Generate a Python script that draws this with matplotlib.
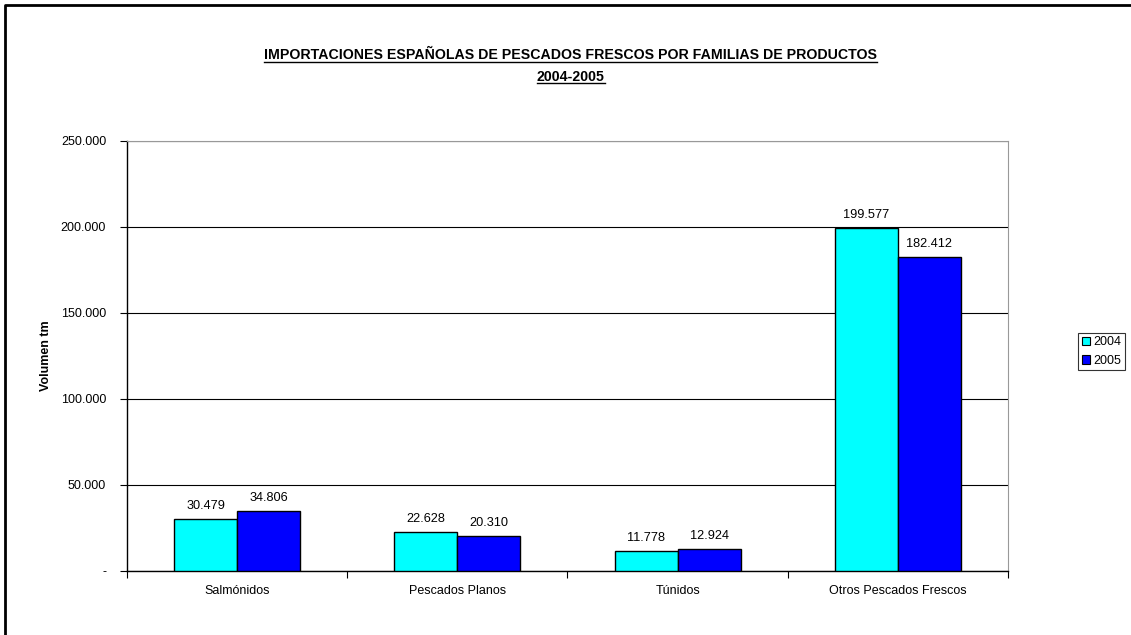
import numpy as np
import matplotlib
matplotlib.use('Agg')
import matplotlib.pyplot as plt
from matplotlib.lines import Line2D
from matplotlib.patches import Patch

# Datos
categorias = ['Salmónidos', 'Pescados Planos', 'Túnidos', 'Otros Pescados Frescos']
vol_2004 = [30479, 22628, 11778, 199577]
vol_2005 = [34806, 20310, 12924, 182412]
series = ['2004', '2005']
colores = ['#00FFFF', '#0000FF']
titulo = ['IMPORTACIONES ESPAÑOLAS DE PESCADOS FRESCOS POR FAMILIAS DE PRODUCTOS', '2004-2005']


def fmt_miles(v):
    if v == 0:
        return '-'
    return f'{v:,.0f}'.replace(',', '.')


plt.rcParams['font.family'] = ['Liberation Sans', 'DejaVu Sans']
plt.rcParams['font.size'] = 9

fig = plt.figure(figsize=(11.31, 6.35), dpi=100)
ax = fig.add_axes([0.1123, 0.1008, 0.7789, 0.6772])

x = np.arange(len(categorias))
w = 0.286
b1 = ax.bar(x - w / 2, vol_2004, w, color=colores[0], edgecolor='black', linewidth=1, zorder=3)
b2 = ax.bar(x + w / 2, vol_2005, w, color=colores[1], edgecolor='black', linewidth=1, zorder=3)

for barras in (b1, b2):
    for r in barras:
        ax.annotate(fmt_miles(r.get_height()), (r.get_x() + r.get_width() / 2, r.get_height()),
                    xytext=(0, 5), textcoords='offset points', ha='center', va='bottom',
                    fontsize=9.2)

ax.set_xlim(-0.5, len(categorias) - 0.5)
ax.set_ylim(0, 250000)
ax.set_yticks(np.arange(0, 250001, 50000))
ax.set_yticklabels([fmt_miles(v) for v in np.arange(0, 250001, 50000)], fontsize=9)
ax.yaxis.grid(True, color='black', linewidth=0.8, zorder=0)

# ticks del eje x entre categorias
ax.set_xticks(np.arange(-0.5, len(categorias)), minor=False)
ax.set_xticklabels([''] * (len(categorias) + 1))
ax.set_xticks(x, minor=True)
ax.set_xticklabels(categorias, minor=True, fontsize=9)
ax.tick_params(axis='x', which='minor', length=0, pad=10)
ax.tick_params(axis='x', which='major', length=5, direction='out')
ax.tick_params(axis='y', length=5, direction='out', pad=10)

ax.spines['left'].set_linewidth(1)
ax.spines['bottom'].set_linewidth(1)
ax.spines['top'].set_color('#999999')
ax.spines['right'].set_color('#999999')
ax.spines['top'].set_linewidth(0.8)
ax.spines['right'].set_linewidth(0.8)

ax.set_ylabel('Volumen tm', fontsize=9, fontweight='bold', labelpad=6)

# titulo (dos lineas, subrayado)
textos = []
for linea, yb in zip(titulo, [0.907, 0.8725]):
    textos.append(fig.text(0.5045, yb, linea, ha='center', va='baseline', fontsize=10.2,
                           fontweight='bold'))

handles = [Patch(facecolor=c, edgecolor='black', linewidth=0.8) for c in colores]
leg = fig.legend(handles, series, loc='center left', bbox_to_anchor=(0.953, 0.4465),
                 frameon=True, fancybox=False, edgecolor='black', fontsize=9,
                 handlelength=0.7, handleheight=0.7, handletextpad=0.2,
                 borderpad=0.3, labelspacing=0.5, borderaxespad=0)
leg.get_frame().set_linewidth(0.8)

# subrayado del titulo
fig.canvas.draw()
rend = fig.canvas.get_renderer()
for t in textos:
    bb = t.get_window_extent(rend)
    yb = t.get_position()[1] * fig.bbox.height - 2.5
    fig.add_artist(Line2D([bb.x0 / fig.bbox.width, bb.x1 / fig.bbox.width],
                          [yb / fig.bbox.height, yb / fig.bbox.height],
                          transform=fig.transFigure, color='black', linewidth=1))

# borde del grafico
fig.add_artist(Line2D([0.0045, 0.0045, 1.0], [0.0, 0.992, 0.992], transform=fig.transFigure,
                      color='black', linewidth=2))

fig.savefig('out.png', dpi=100)
